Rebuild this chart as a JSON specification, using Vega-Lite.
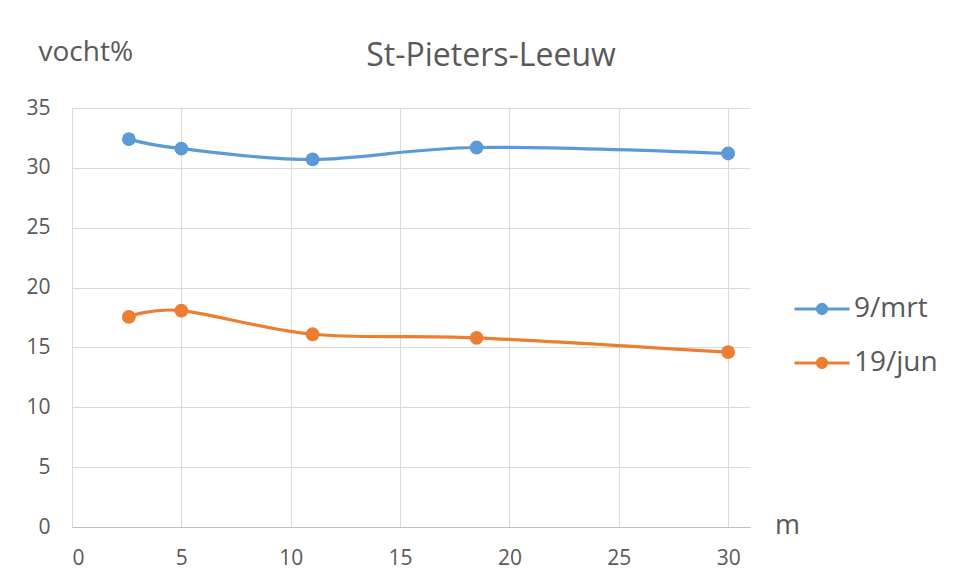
{
  "$schema": "https://vega.github.io/schema/vega-lite/v6.json",
  "width": 678,
  "height": 419,
  "autosize": {"type": "none"},
  "padding": {"left": 72, "top": 108, "right": 209, "bottom": 58},
  "background": "white",
  "title": {
    "text": "St-Pieters-Leeuw",
    "anchor": "middle",
    "frame": "group",
    "dx": 80,
    "dy": 39,
    "font": "Open Sans",
    "fontSize": 32,
    "fontWeight": "normal",
    "color": "#595959"
  },
  "config": {
    "view": {"stroke": null},
    "font": "Open Sans",
    "axis": {
      "labelFont": "Open Sans",
      "labelColor": "#595959",
      "labelFontSize": 21,
      "gridColor": "#d9d9d9",
      "gridWidth": 1,
      "ticks": false,
      "tickSize": 0,
      "titleFont": "Open Sans",
      "titleColor": "#595959",
      "titleFontWeight": "normal"
    }
  },
  "data": {
    "values": [
      {"m": 2.6, "vocht": 32.4, "datum": "9/mrt"},
      {"m": 5, "vocht": 31.6, "datum": "9/mrt"},
      {"m": 11, "vocht": 30.7, "datum": "9/mrt"},
      {"m": 18.5, "vocht": 31.7, "datum": "9/mrt"},
      {"m": 30, "vocht": 31.2, "datum": "9/mrt"},
      {"m": 2.6, "vocht": 17.55, "datum": "19/jun"},
      {"m": 5, "vocht": 18.08, "datum": "19/jun"},
      {"m": 11, "vocht": 16.1, "datum": "19/jun"},
      {"m": 18.5, "vocht": 15.8, "datum": "19/jun"},
      {"m": 30, "vocht": 14.6, "datum": "19/jun"}
    ]
  },
  "mark": {
    "type": "line",
    "interpolate": "cardinal",
    "strokeWidth": 3.2,
    "point": {"filled": true, "size": 190, "opacity": 1}
  },
  "encoding": {
    "x": {
      "field": "m",
      "type": "quantitative",
      "scale": {"domain": [0, 31], "nice": false, "zero": true},
      "axis": {
        "values": [0, 5, 10, 15, 20, 25, 30],
        "grid": true,
        "domain": true,
        "domainColor": "#bfbfbf",
        "domainWidth": 1,
        "labelPadding": 20,
        "labelBaseline": "top",
        "title": "m",
        "titleFontSize": 27,
        "titleX": 715,
        "titleY": 6,
        "titleAlign": "center",
        "titleBaseline": "alphabetic",
        "titleAngle": 0
      }
    },
    "y": {
      "field": "vocht",
      "type": "quantitative",
      "scale": {"domain": [0, 35], "nice": false},
      "axis": {
        "values": [0, 5, 10, 15, 20, 25, 30, 35],
        "grid": true,
        "domain": false,
        "labelPadding": 22,
        "title": "vocht%",
        "titleFontSize": 28,
        "titleAngle": 0,
        "titleAlign": "left",
        "titleBaseline": "alphabetic",
        "titleX": -34,
        "titleY": -48
      }
    },
    "color": {
      "field": "datum",
      "type": "nominal",
      "sort": ["9/mrt", "19/jun"],
      "scale": {"domain": ["9/mrt", "19/jun"], "range": ["#5B9BD5", "#ED7D31"]},
      "legend": {
        "title": null,
        "orient": "none",
        "legendX": 721,
        "legendY": 172,
        "symbolType": "M-1,0L1,0M-0.17,0A0.17,0.17 0 1 1 0.17,0A0.17,0.17 0 1 1 -0.17,0Z",
        "symbolSize": 3025,
        "symbolStrokeWidth": 3,
        "rowPadding": 11,
        "labelFont": "Open Sans",
        "labelFontSize": 28,
        "labelColor": "#595959",
        "labelOffset": 3,
        "labelLimit": 200,
        "encode": {
          "symbols": {
            "update": {
              "fill": {"scale": "color", "field": "value"},
              "stroke": {"scale": "color", "field": "value"},
              "opacity": {"value": 1}
            }
          }
        }
      }
    }
  }
}
